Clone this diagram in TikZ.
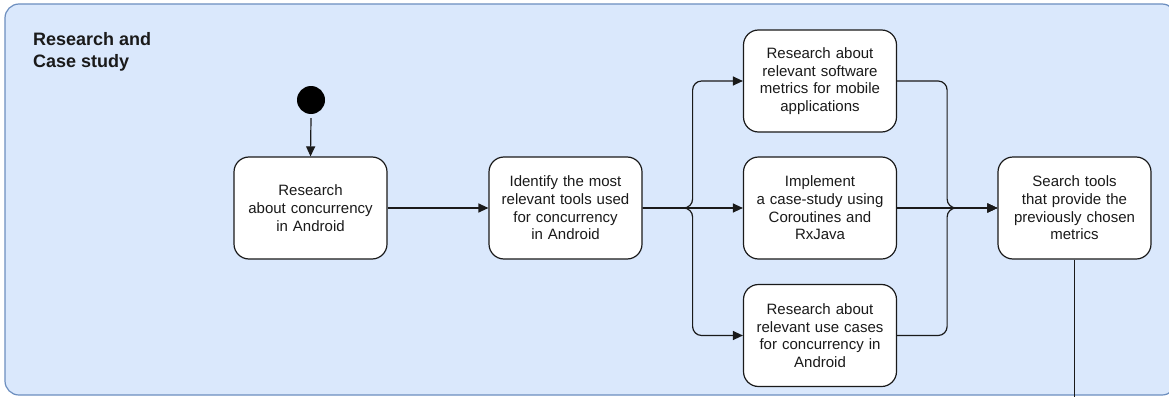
\documentclass[tikz,border=0pt]{standalone}
\usepackage{fontspec}
\setmainfont{Liberation Sans}
\usetikzlibrary{arrows.meta}
\definecolor{contfill}{HTML}{DAE8FC}
\definecolor{contline}{HTML}{6C8EBF}
\definecolor{ink}{HTML}{1A1A1A}
\begin{document}
\begin{tikzpicture}[x=1pt,y=-1pt,
  stepbox/.style={draw=ink, fill=white, line width=1.2pt, rounded corners=15pt,
    minimum width=153pt, minimum height=102pt, align=center, text=ink,
    font=\fontsize{15}{17.7}\selectfont, inner sep=0pt, text width=150pt},
  flow/.style={draw=ink, line width=1.2pt, rounded corners=9pt,
    -{Triangle[length=10pt,width=9pt]}},
  plain/.style={draw=ink, line width=1.2pt},
  titletext/.style={font=\bfseries\fontsize{18}{21}\selectfont, text=ink, align=left, inner sep=0pt}]
\useasboundingbox (0,0) rectangle (1169,396);
\clip (0,0) rectangle (1169,396);
\draw[fill=contfill, draw=contline, line width=1.2pt, rounded corners=14pt] (5,4) rectangle (1176,395);
\node[titletext, anchor=base west] (title) at (33,67) {Research and\\Case study};
\node[circle, fill=black, minimum size=28pt, inner sep=0pt] (start) at (311,100) {};
\node[stepbox] (b1) at (310.5,208) {Research\\about concurrency\\in Android};
\node[stepbox] (b2) at (565.5,208) {Identify the most\\relevant tools used\\for concurrency\\in Android};
\node[stepbox] (top) at (820,81) {Research about\\relevant software\\metrics for mobile\\applications};
\node[stepbox] (mid) at (820,208) {Implement\\a case-study using\\Coroutines and\\RxJava};
\node[stepbox] (bot) at (820,335.5) {Research about\\relevant use cases\\for concurrency in\\Android};
\node[stepbox] (right) at (1074.5,208) {Search tools\\that provide the\\previously chosen\\metrics};
\coordinate (endpt) at (1074.5,400);
\draw[flow] ([yshift=-4pt]start.south) -- (b1.north);
\draw[flow] (b1.east) -- (b2.west);
\draw[flow] (b2.east) -- ++(50,0) |- (top.west);
\draw[flow] (b2.east) -- (mid.west);
\draw[flow] (b2.east) -- ++(50,0) |- (bot.west);
\draw[flow] (top.east) -- ++(50,0) |- (right.west);
\draw[flow] (mid.east) -- (right.west);
\draw[flow] (bot.east) -- ++(50,0) |- (right.west);
\draw[plain] (right.south) -- (endpt);
\end{tikzpicture}
\end{document}
